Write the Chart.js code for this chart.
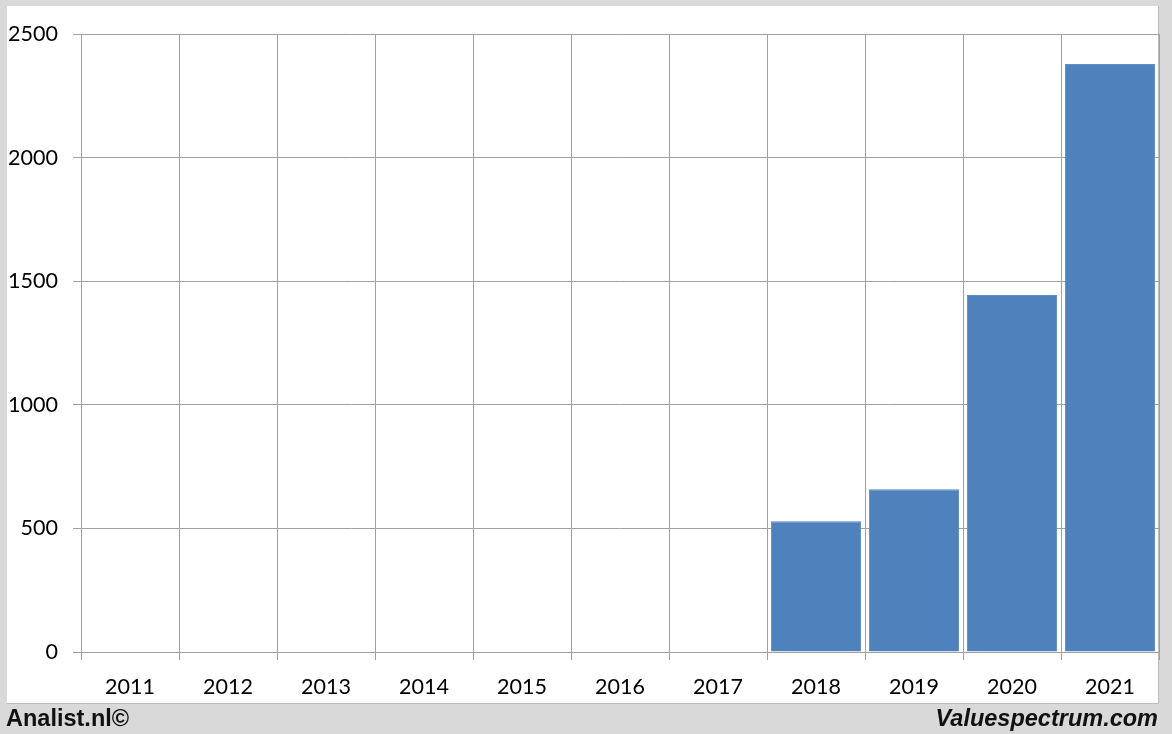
<!DOCTYPE html>
<html>
<head>
<meta charset="utf-8">
<script src="https://cdn.jsdelivr.net/npm/chart.js@4"></script>
<style>
  html, body { margin: 0; padding: 0; }
  body { width: 1172px; height: 734px; position: relative; background: #d9d9d9; overflow: hidden; }
  #white { position: absolute; left: 7px; top: 6px; width: 1151px; height: 697px; background: #fff; border-right: 1px solid #bdbdbd; border-bottom: 1px solid #bdbdbd; }
  #wrap { position: absolute; left: 0; top: 0; width: 1172px; height: 734px; }
  .foot { position: absolute; top: 703px; height: 31px; line-height: 30px; font-family: "Liberation Sans", Arial, sans-serif; font-weight: bold; font-size: 23.5px; color: #111; }
  #left { left: 6px; }
  #right { right: 14px; font-style: italic; }
</style>
</head>
<body>
<div id="white"></div>
<div id="wrap"><canvas id="c" width="1172" height="734"></canvas></div>
<div class="foot" id="left">Analist.nl©</div>
<div class="foot" id="right">Valuespectrum.com</div>
<script>
const categories = ["2011","2012","2013","2014","2015","2016","2017","2018","2019","2020","2021"];
const values = [null, null, null, null, null, null, null, 529, 658, 1444, 2379];
const yTicks = [0, 500, 1000, 1500, 2000, 2500];

const gridColor = '#a0a0a0';
const font = { family: 'Lato, "Liberation Sans", sans-serif', size: 21.5 };

new Chart(document.getElementById('c'), {
  type: 'bar',
  data: {
    labels: categories,
    datasets: [{
      data: values,
      backgroundColor: '#4f81bd',
      borderColor: '#5b8cc6',
      borderWidth: 1,
      categoryPercentage: 1.0,
      barPercentage: 0.92
    }]
  },
  options: {
    responsive: false,
    animation: false,
    devicePixelRatio: 1,
    layout: { padding: { left: 0, top: 34, right: 13, bottom: 0 } },
    plugins: { legend: { display: false }, tooltip: { enabled: false } },
    scales: {
      x: {
        grid: { color: gridColor, lineWidth: 1, tickLength: 8, offset: true, drawTicks: true },
        border: { color: gridColor },
        ticks: { color: '#000', font: font, padding: 14, maxRotation: 0 },
        afterFit: (s) => { s.height = 82; }
      },
      y: {
        min: 0, max: 2500,
        afterBuildTicks: (s) => { s.ticks = yTicks.map(v => ({ value: v })); },
        grid: { color: gridColor, lineWidth: 1, tickLength: 8 },
        border: { color: gridColor },
        ticks: { color: '#000', font: font, padding: 15, callback: (v) => String(v) },
        afterFit: (s) => { s.width = 81; }
      }
    }
  }
});
</script>
</body>
</html>
